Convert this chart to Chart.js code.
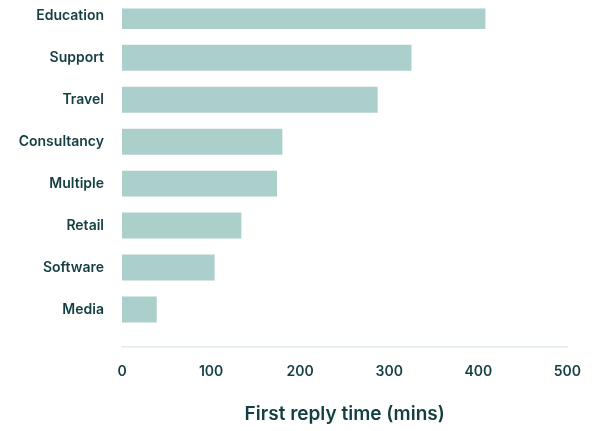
<!DOCTYPE html>
<html>
<head>
<meta charset="utf-8">
<script src="https://cdn.jsdelivr.net/npm/chart.js@4/dist/chart.umd.min.js"></script>
<style>
  html, body { margin: 0; padding: 0; background: #ffffff; }
  #wrap { position: relative; width: 598px; height: 431px; }
</style>
</head>
<body>
<div id="wrap"><canvas id="chart" width="598" height="431"></canvas></div>
<script>
// Industries, top to bottom
const categories = ['Education', 'Support', 'Travel', 'Consultancy', 'Multiple', 'Retail', 'Software', 'Media'];
// First reply time in minutes
const replyMinutes = [408, 325, 287, 180, 174, 134, 104, 39];
// Value axis ticks
const xTicks = [0, 100, 200, 300, 400, 500];

const textColor = '#143f42';
const barColor = '#abcfcb';
const fontFamily = 'Inter, "Noto Sans", sans-serif';

// Bars placed by index on a numeric axis so the baseline sits below the last row
const points = replyMinutes.map((v, i) => ({ x: v, y: i }));

new Chart(document.getElementById('chart'), {
  type: 'bar',
  data: {
    datasets: [{
      data: points,
      backgroundColor: barColor,
      borderWidth: 0,
      categoryPercentage: 1,
      barPercentage: 0.62
    }]
  },
  options: {
    indexAxis: 'y',
    responsive: false,
    animation: false,
    layout: { padding: { top: 0, right: 29, bottom: 0, left: 0 } },
    plugins: { legend: { display: false }, tooltip: { enabled: false } },
    scales: {
      x: {
        type: 'linear',
        min: xTicks[0],
        max: xTicks[xTicks.length - 1],
        afterBuildTicks: (scale) => { scale.ticks = xTicks.map(v => ({ value: v })); },
        grid: { display: false, drawTicks: false },
        border: { display: true, color: '#e1eaec', width: 1.5 },
        ticks: {
          color: textColor,
          padding: 17,
          font: { family: fontFamily, size: 14, weight: '600' }
        },
        title: {
          display: true,
          text: 'First reply time (mins)',
          color: textColor,
          font: { family: fontFamily, size: 19, weight: '600' },
          padding: { top: 6, bottom: 5 }
        }
      },
      y: {
        type: 'linear',
        reverse: true,
        offset: false,
        min: -0.18,
        max: 7.883,
        afterBuildTicks: (scale) => { scale.ticks = categories.map((_, i) => ({ value: i })); },
        // hidden tick marks only push the labels away from the bars
        grid: { display: false, drawTicks: true, tickLength: 18, offset: false },
        border: { display: false },
        afterFit: (scale) => { scale.width = 122; },
        ticks: {
          autoSkip: false,
          padding: 0,
          color: textColor,
          font: { family: fontFamily, size: 14, weight: '600' },
          callback: (v) => categories[v]
        }
      }
    }
  }
});
</script>
</body>
</html>
